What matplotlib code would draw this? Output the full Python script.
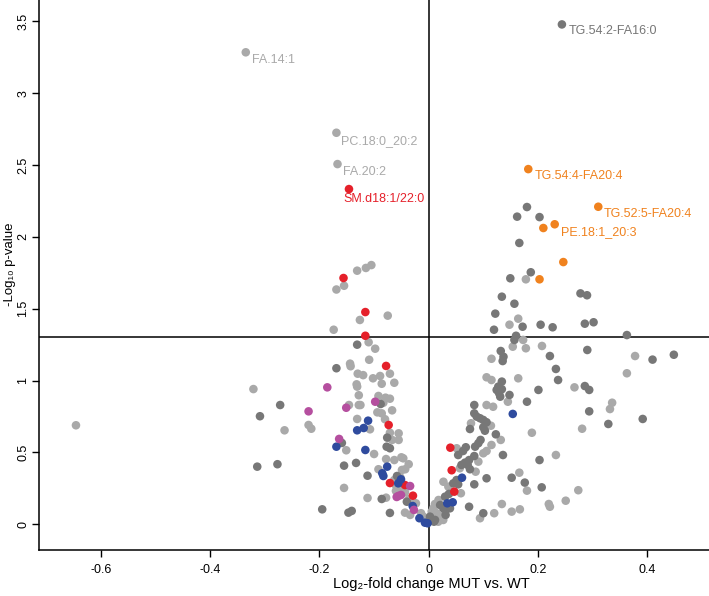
import matplotlib
matplotlib.use("Agg")
import matplotlib.pyplot as plt

plt.rcParams['font.family'] = ['Liberation Sans', 'DejaVu Sans']
plt.rcParams['axes.unicode_minus'] = False

# light grey lipids
light_x = [-0.335, -0.169, -0.167, 0.178, -0.131, -0.115, -0.105, -0.155, -0.169, -0.126,
           -0.075, -0.174, -0.110, -0.098, -0.109, -0.144, -0.143, -0.130, -0.102, -0.089,
           -0.071, -0.120, -0.321, -0.132, -0.131, -0.128, -0.146, -0.128, -0.131, -0.646,
           -0.220, -0.215, -0.264, -0.151, -0.155, -0.086, -0.063, -0.092, -0.079, -0.071,
           -0.083, -0.125, -0.067, -0.094, -0.086, -0.080, -0.1075, -0.071, -0.055, -0.067,
           -0.055, -0.100, -0.078, -0.063, -0.050, -0.0465, -0.092, -0.0366, -0.049, -0.043,
           -0.052, -0.063, -0.060, -0.049, -0.060, -0.0434, -0.112, -0.078, -0.036, -0.0233,
           -0.0434, -0.034, -0.014, -0.010,
           0.148, 0.164, 0.154, 0.173, 0.2075, 0.178, 0.115, 0.378, 0.363, 0.106,
           0.115, 0.164, 0.267, 0.336, 0.332, 0.281, 0.145, 0.106, 0.118, 0.0775,
           0.114, 0.189, 0.132, 0.115, 0.0513, 0.106, 0.100, 0.233, 0.091, 0.057,
           0.086, 0.166, 0.180, 0.027, 0.036, 0.059, 0.018, 0.0115, 0.134, 0.220,
           0.222, 0.274, 0.251, 0.094, 0.120, 0.152, 0.167, 0.0055, 0.0147, 0.0207,
           0.0267, 0.0176, 0.0085, 0.030, 0.0207]
light_y = [3.285, 2.725, 2.507, 1.705, 1.765, 1.784, 1.804, 1.660, 1.634, 1.422,
           1.452, 1.354, 1.267, 1.222, 1.145, 1.118, 1.100, 1.048, 1.016, 1.032,
           1.048, 1.038, 0.941, 0.974, 0.958, 0.898, 0.830, 0.830, 0.733, 0.689,
           0.691, 0.665, 0.654, 0.515, 0.253, 0.978, 0.985, 0.893, 0.881, 0.874,
           0.846, 0.830, 0.793, 0.779, 0.772, 0.731, 0.661, 0.637, 0.633, 0.587,
           0.587, 0.489, 0.454, 0.447, 0.466, 0.459, 0.383, 0.418, 0.378, 0.383,
           0.327, 0.308, 0.271, 0.248, 0.232, 0.223, 0.183, 0.185, 0.176, 0.146,
           0.081, 0.065, 0.077, 0.053,
           1.389, 1.431, 1.236, 1.283, 1.241, 1.225, 1.152, 1.171, 1.051, 1.023,
           1.004, 1.016, 0.953, 0.846, 0.802, 0.665, 0.853, 0.830, 0.818, 0.703,
           0.686, 0.637, 0.587, 0.552, 0.529, 0.510, 0.494, 0.482, 0.436, 0.390,
           0.366, 0.359, 0.234, 0.296, 0.262, 0.216, 0.169, 0.141, 0.141, 0.141,
           0.122, 0.237, 0.164, 0.042, 0.077, 0.088, 0.104, 0.088, 0.077, 0.053,
           0.030, 0.018, 0.111, 0.088, 0.035]

# dark grey lipids
dark_x = [0.244, 0.180, 0.162, 0.203, 0.166, 0.1495, 0.187, 0.134, 0.278, 0.290,
          0.157, 0.122, 0.172, 0.205, 0.227, 0.1196, 0.286, 0.302, 0.363, 0.160,
          0.157, 0.132, 0.137, 0.1355, 0.222, 0.2905, 0.410, 0.449, 0.233, 0.237,
          0.134, 0.1275, 0.1245, 0.129, 0.134, 0.201, 0.148, 0.131, 0.180, 0.0835,
          0.286, 0.294, 0.294, 0.392, 0.329, 0.0835, 0.088, 0.094, 0.100, 0.106,
          0.0756, 0.100, 0.103, 0.123, 0.095, 0.091, 0.085, 0.068, 0.063, 0.054,
          0.136, 0.0835, 0.074, 0.0665, 0.060, 0.203, 0.0714, 0.0756, 0.106, 0.152,
          0.0835, 0.176, 0.207, 0.051, 0.045, 0.054, 0.037, 0.030, 0.021, 0.027,
          0.039, 0.074, 0.100, 0.031, 0.0024, 0.0116, 0.0097,
          -0.131, -0.169, -0.272, -0.309, -0.159, -0.133, -0.155, -0.277, -0.314, -0.195,
          -0.147, -0.141, -0.088, -0.076, -0.077, -0.071, -0.112, -0.058, -0.086, -0.040,
          -0.071]
dark_y = [3.479, 2.208, 2.141, 2.138, 1.958, 1.712, 1.754, 1.584, 1.607, 1.594,
          1.535, 1.466, 1.375, 1.389, 1.371, 1.354, 1.396, 1.406, 1.317, 1.312,
          1.283, 1.206, 1.166, 1.136, 1.171, 1.213, 1.146, 1.180, 1.081, 1.004,
          0.993, 0.958, 0.935, 0.912, 0.940, 0.935, 0.900, 0.888, 0.853, 0.830,
          0.962, 0.935, 0.786, 0.733, 0.698, 0.772, 0.749, 0.738, 0.726, 0.710,
          0.663, 0.675, 0.651, 0.626, 0.587, 0.564, 0.540, 0.536, 0.510, 0.482,
          0.482, 0.475, 0.447, 0.429, 0.413, 0.447, 0.413, 0.383, 0.320, 0.324,
          0.278, 0.290, 0.257, 0.308, 0.285, 0.278, 0.211, 0.192, 0.134, 0.111,
          0.111, 0.122, 0.077, 0.065, 0.053, 0.030, 0.018,
          1.250, 1.086, 0.830, 0.752, 0.566, 0.427, 0.408, 0.418, 0.401, 0.104,
          0.081, 0.093, 0.837, 0.603, 0.540, 0.529, 0.338, 0.336, 0.176, 0.157,
          0.079]

red_x = [-0.146, -0.156, -0.116, -0.116, -0.078, -0.0733, -0.071, -0.0434, -0.0288,
         0.0396, 0.0421, 0.0469]
red_y = [2.333, 1.714, 1.477, 1.312, 1.102, 0.691, 0.287, 0.273, 0.199,
         0.533, 0.376, 0.227]

orange_x = [0.1824, 0.3106, 0.2308, 0.210, 0.2466, 0.203]
orange_y = [2.472, 2.210, 2.088, 2.062, 1.825, 1.705]

blue_x = [-0.131, -0.169, -0.111, -0.119, -0.116, -0.076, -0.085, -0.083, -0.0507,
          -0.0557, -0.0293, -0.017, -0.0068, -0.002, 0.154, 0.061, 0.034, 0.044]
blue_y = [0.654, 0.540, 0.721, 0.670, 0.517, 0.401, 0.355, 0.336, 0.313,
          0.285, 0.127, 0.042, 0.011, 0.007, 0.768, 0.324, 0.146, 0.153]

magenta_x = [-0.1857, -0.220, -0.151, -0.164, -0.098, -0.034, -0.0557, -0.0507, -0.027, -0.0586]
magenta_y = [0.953, 0.786, 0.811, 0.594, 0.853, 0.266, 0.197, 0.204, 0.100, 0.190]

labels = ['FA.14:1', 'PC.18:0_20:2', 'FA.20:2', 'SM.d18:1/22:0', 'TG.54:2-FA16:0',
          'TG.54:4-FA20:4', 'TG.52:5-FA20:4', 'PE.18:1_20:3']
label_x = [-0.335, -0.169, -0.167, -0.146, 0.244, 0.1824, 0.3106, 0.2308]
label_y = [3.285, 2.725, 2.507, 2.333, 3.479, 2.472, 2.210, 2.088]

c_light = '#a9a9a9'
c_dark = '#777777'
c_red = '#e5202a'
c_orange = '#f0821e'
c_blue = '#2f4b9e'
c_mag = '#b54f9f'
label_colors = [c_light, c_light, c_light, c_red, c_dark, c_orange, c_orange, c_orange]
label_offsets = [(4.5, -5.5), (3.5, -6), (4, -5.5), (-4, -7.5), (5, -5),
                 (4.5, -5), (4, -5), (4.5, -5.5)]

fig = plt.figure(figsize=(7.09, 5.96), dpi=100)
ax = fig.add_axes([0.0554, 0.0772, 0.9446, 0.9228])

ms = 38
ax.scatter(light_x, light_y, s=ms, c=c_light, edgecolors='none', zorder=2)
ax.scatter(dark_x, dark_y, s=ms, c=c_dark, edgecolors='none', zorder=2)
ax.scatter(red_x, red_y, s=ms, c=c_red, edgecolors='none', zorder=3)
ax.scatter(orange_x, orange_y, s=ms, c=c_orange, edgecolors='none', zorder=3)
ax.scatter(blue_x, blue_y, s=ms, c=c_blue, edgecolors='none', zorder=3)
ax.scatter(magenta_x, magenta_y, s=ms, c=c_mag, edgecolors='none', zorder=3)

for txt, x, y, col, off in zip(labels, label_x, label_y, label_colors, label_offsets):
    ax.annotate(txt, (x, y), xytext=off, textcoords='offset points',
                ha='left', va='center', color=col, fontsize=9)

ax.axhline(1.301, color='black', lw=1.1, zorder=1)
ax.axvline(0, color='black', lw=1.1, zorder=1)

ax.set_xlim(-0.7132, 0.5134)
ax.set_ylim(-0.179, 3.649)
ax.set_xticks([-0.6, -0.4, -0.2, 0, 0.2, 0.4])
ax.set_xticklabels(['-0.6', '-0.4', '-0.2', '0', '0.2', '0.4'])
ax.set_yticks([0, 0.5, 1, 1.5, 2, 2.5, 3, 3.5])
ax.set_yticklabels(['0', '0.5', '1', '1.5', '2', '2.5', '3', '3.5'],
                   rotation=90, va='center')
ax.tick_params(labelsize=9, length=5, width=1, direction='out', pad=2)
ax.tick_params(axis='x', pad=5)
ax.spines['top'].set_visible(False)
ax.spines['right'].set_visible(False)
ax.spines['left'].set_linewidth(1.1)
ax.spines['bottom'].set_linewidth(1.1)

ax.set_xlabel('Log\u2082-fold change MUT vs. WT', fontsize=10.5)
ax.xaxis.set_label_coords(0.585, -0.05)
ax.set_ylabel('-Log\u2081\u2080 p-value', fontsize=9.5)
ax.yaxis.set_label_coords(-0.0355, 0.52)

fig.savefig('out.png', dpi=100)
